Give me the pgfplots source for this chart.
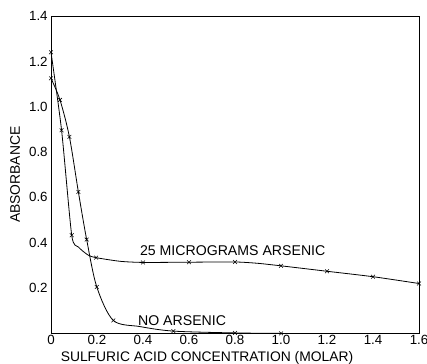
\documentclass[border=0pt]{standalone}
\usepackage{pgfplots}
\pgfplotsset{compat=1.18}
\usepackage{fontspec}
\setmainfont{Liberation Sans}
\begin{document}
\begin{tikzpicture}
\begin{axis}[
  scale only axis,
  width=276pt, height=238pt,
  xmin=0, xmax=1.6, ymin=0, ymax=1.4,
  axis line style={black, line width=0.6pt},
  xtick={0,0.2,0.4,0.6,0.8,1.0,1.2,1.4,1.6},
  xticklabels={0,0.2,0.4,0.6,0.8,1.0,1.2,1.4,1.6},
  ytick={0.2,0.4,0.6,0.8,1.0,1.2,1.4},
  yticklabels={0.2,0.4,0.6,0.8,1.0,1.2,1.4},
  major tick length=0pt,
  tick label style={font=\fontsize{10}{12}\selectfont},
  label style={font=\fontsize{10.4}{12}\selectfont},
  xticklabel style={yshift=2pt},
  yticklabel style={xshift=1pt},
  xlabel={SULFURIC ACID CONCENTRATION (MOLAR)},
  ylabel={ABSORBANCE},
  xlabel style={yshift=2pt, xshift=-21pt},
  ylabel style={yshift=0pt},
  /pgf/number format/assume math mode=true,
  clip=false,
]
\coordinate (bl) at (rel axis cs:-0.1386,-0.0946);
\coordinate (tr) at (rel axis cs:1.0217,1.0505);
% 25 micrograms arsenic: curve
\addplot[black, line width=0.6pt, smooth, tension=0.4, mark=none] coordinates {
 (0,1.24) (0.046,0.896) (0.09,0.433) (0.119,0.381) (0.162,0.345) (0.196,0.334)
 (0.3,0.318) (0.4,0.313) (0.6,0.314) (0.8,0.315) (0.9,0.309) (1.0,0.298) (1.2,0.274) (1.4,0.25) (1.6,0.22)
};
\addplot[black, only marks, mark=x, mark size=2pt] coordinates {
 (0,1.24) (0.046,0.896) (0.09,0.433) (0.196,0.334) (0.4,0.313) (0.6,0.314)
 (0.8,0.315) (1.0,0.298) (1.2,0.274) (1.4,0.25) (1.6,0.22)
};
% no arsenic: curve
\addplot[black, line width=0.6pt, smooth, tension=0.5, mark=none] coordinates {
 (0,1.125) (0.039,1.03) (0.08,0.867) (0.119,0.624) (0.155,0.414) (0.199,0.205)
 (0.271,0.057) (0.387,0.03) (0.532,0.01) (0.8,0.002) (1.0,0.0)
};
\addplot[black, only marks, mark=x, mark size=2pt] coordinates {
 (0,1.125) (0.039,1.03) (0.08,0.867) (0.119,0.624) (0.155,0.414) (0.199,0.205)
 (0.271,0.057) (0.532,0.01) (0.8,0.002) (1.0,0.0)
};
\node[font=\fontsize{10.6}{12}\selectfont, anchor=south] at (axis cs:0.79,0.322) {25 MICROGRAMS ARSENIC};
\node[font=\fontsize{10.6}{12}\selectfont, anchor=south] at (axis cs:0.57,0.015) {NO ARSENIC};
\end{axis}
\pgfresetboundingbox
\path (bl) rectangle (tr);
\end{tikzpicture}
\end{document}
